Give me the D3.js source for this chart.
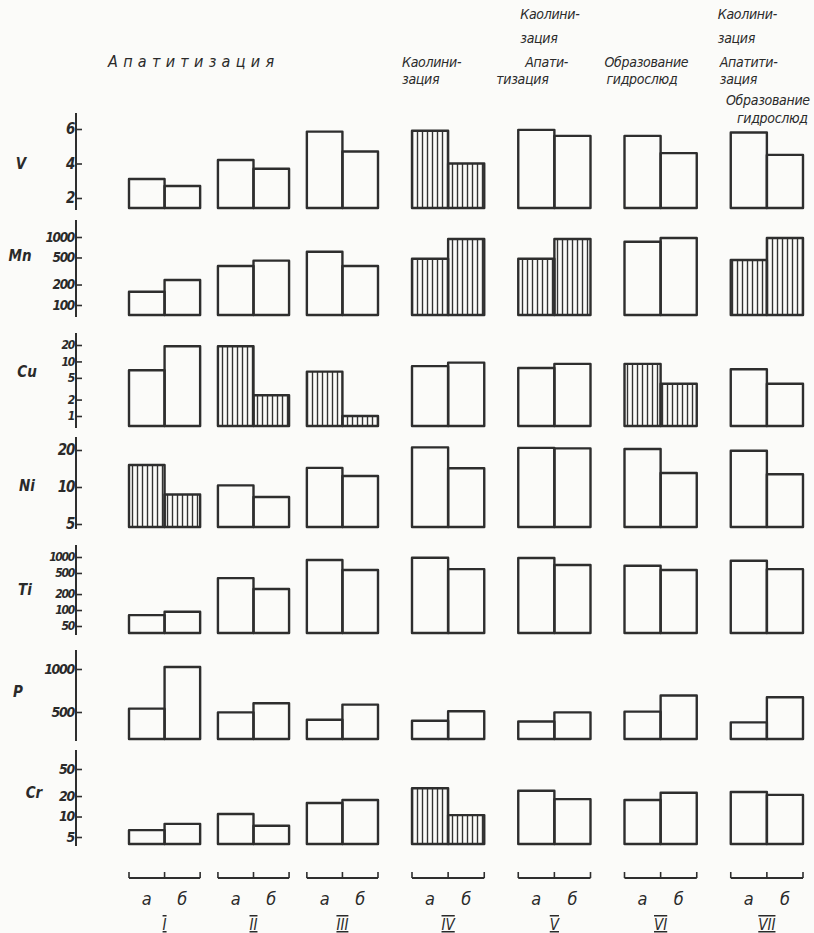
<!DOCTYPE html>
<html><head><meta charset="utf-8">
<script src="https://cdn.jsdelivr.net/npm/d3@7"></script>
<style>
body{margin:0;background:#fbfbf9;}
text{font-family:"DejaVu Sans Condensed","DejaVu Sans",sans-serif;font-style:italic;fill:#2a2a2a;}
</style></head>
<body><svg id="c" width="814" height="933"></svg>
<script>
// ---- data ----
const groups = ["I","II","III","IV","V","VI","VII"];
const subgroups = ["а","б"];
const elements = ["V","Mn","Cu","Ni","Ti","P","Cr"];
// [a, б] per group I..VII
const valuesV  = [[3.1,2.7],[4.2,3.7],[5.85,4.7],[5.9,4.0],[5.95,5.6],[5.6,4.6],[5.8,4.5]];
const valuesMn = [[157,233],[375,449],[608,375],[478,935],[478,935],[853,965],[458,965]];
const valuesCu = [[6.9,19],[19,2.4],[6.5,1.0],[8.2,9.5],[7.6,9],[9,3.9],[7.2,3.9]];
const valuesNi = [[15.1,8.7],[10.3,8.3],[14.3,12.3],[21,14.2],[20.8,20.6],[20.4,13],[19.7,12.7]];
const valuesTi = [[80,93],[400,250],[877,568],[970,590],[957,707],[686,568],[852,590]];
const valuesP  = [[539,1023],[496,601],[410,586],[398,508],[390,496],[504,692],[379,672]];
const valuesCr = [[6.3,7.8],[10.9,7.3],[15.8,17.5],[26,10.5],[24,18],[17.5,22.4],[23,20.8]];
// hatched groups per element
const hatchV  = ["IV"];
const hatchMn = ["IV","V","VII"];
const hatchCu = ["II","III","VI"];
const hatchNi = ["I"];
const hatchTi = [];
const hatchP  = [];
const hatchCr = ["IV"];
// tick labels
const ticksV  = [2,4,6];
const ticksMn = [100,200,500,1000];
const ticksCu = [1,2,5,10,20];
const ticksNi = [5,10,20];
const ticksTi = [50,100,200,500,1000];
const ticksP  = [500,1000];
const ticksCr = [5,10,20,50];
// process headers
const sectionTitle = "Апатитизация";
const headerIV  = ["Каолини-","зация"];
const headerV   = ["Каолини-","зация","Апати-","тизация"];
const headerVI  = ["Образование","гидрослюд"];
const headerVII = ["Каолини-","зация","Апатити-","зация","Образование","гидрослюд"];

// ---- layout ----
const svg = d3.select("#c");
const ink = "#2e2e2e";
const defs = svg.append("defs");
const pat = defs.append("pattern").attr("id","hatch").attr("patternUnits","userSpaceOnUse")
  .attr("width",5).attr("height",10);
pat.append("line").attr("x1",2.5).attr("x2",2.5).attr("y1",0).attr("y2",10)
  .attr("stroke","#333").attr("stroke-width",1.4);

const sec1 = d3.scaleBand().domain(groups.slice(0,3)).range([129,378]).paddingInner(0.2);
const sec2 = d3.scaleBand().domain(groups.slice(3)).range([412,803]).paddingInner(0.32);
const gScale = g => sec1.domain().includes(g) ? sec1 : sec2;
const gx = g => gScale(g)(g);
const bw = g => gScale(g).bandwidth();
const subX = g => d3.scaleBand().domain(subgroups).range([gx(g), gx(g)+bw(g)]);

const rows = [
  {key:"V",  vals:valuesV,  hatch:hatchV,  ticks:ticksV,  fs:15, s:d3.scaleLinear().domain([2,6]).range([198,129]), base:208, top:113, lx:21, ly:169},
  {key:"Mn", vals:valuesMn, hatch:hatchMn, ticks:ticksMn, fs:13.5, s:d3.scaleLog().domain([100,1000]).range([305,237]), base:315, top:220, lx:20, ly:261},
  {key:"Cu", vals:valuesCu, hatch:hatchCu, ticks:ticksCu, fs:12, s:d3.scaleLog().domain([1,20]).range([416,345]), base:426, top:333, lx:27, ly:377},
  {key:"Ni", vals:valuesNi, hatch:hatchNi, ticks:ticksNi, fs:15, s:d3.scaleLog().domain([5,20]).range([524,450]), base:527, top:437, lx:27, ly:491},
  {key:"Ti", vals:valuesTi, hatch:hatchTi, ticks:ticksTi, fs:12, s:d3.scaleLog().domain([50,1000]).range([626,557]), base:633, top:545, lx:25, ly:595},
  {key:"P",  vals:valuesP,  hatch:hatchP,  ticks:ticksP,  fs:14, s:d3.scaleLinear().domain([500,1000]).range([712,669]), base:739, top:650, lx:18, ly:697},
  {key:"Cr", vals:valuesCr, hatch:hatchCr, ticks:ticksCr, fs:14, s:d3.scaleLog().domain([5,50]).range([837,769]), base:844, top:750, lx:34, ly:798}
];
const axisX = 76;

rows.forEach(r => {
  const g = svg.append("g");
  // row label
  g.append("text").attr("x",r.lx).attr("y",r.ly).attr("text-anchor","middle")
    .attr("font-size",15).attr("font-weight","bold").text(r.key);
  // axis
  const ax = d3.axisRight(r.s).tickValues(r.ticks).tickSize(6).tickFormat("");
  const ag = g.append("g").attr("transform",`translate(${axisX},0)`).call(ax);
  ag.select(".domain").remove();
  ag.selectAll(".tick line").attr("stroke",ink).attr("stroke-width",1.6);
  g.append("line").attr("x1",axisX).attr("x2",axisX).attr("y1",r.top).attr("y2",r.base+2)
    .attr("stroke",ink).attr("stroke-width",2);
  g.selectAll(".tl").data(r.ticks).join("text").attr("class","tl")
    .attr("x",axisX-2).attr("y",d=>r.s(d)+r.fs*0.35).attr("text-anchor","end")
    .attr("font-size",r.fs).attr("font-weight","bold").attr("letter-spacing",-1.3).text(d=>d);
  // bars
  const bars = [];
  groups.forEach((grp,i) => {
    const sx = subX(grp);
    subgroups.forEach((sg,j) => bars.push({grp, sg, v:r.vals[i][j], x:sx(sg), w:sx.bandwidth()}));
  });
  g.selectAll(".bar").data(bars).join("rect").attr("class","bar")
    .attr("x",d=>d.x).attr("width",d=>d.w)
    .attr("y",d=>r.s(d.v)).attr("height",d=>r.base - r.s(d.v))
    .attr("fill",d=>r.hatch.includes(d.grp) ? "url(#hatch)" : "none")
    .attr("stroke",ink).attr("stroke-width",2.4).attr("stroke-linejoin","round");
});

// bottom brackets and labels
const by = 878;
groups.forEach(grp => {
  const sx = subX(grp);
  const x0 = gx(grp), x1 = gx(grp)+bw(grp);
  const g = svg.append("g");
  g.append("line").attr("x1",x0).attr("x2",x1).attr("y1",by).attr("y2",by).attr("stroke",ink).attr("stroke-width",1.8);
  [x0, sx("б"), x1].forEach(x => g.append("line").attr("x1",x).attr("x2",x).attr("y1",by).attr("y2",by-6)
    .attr("stroke",ink).attr("stroke-width",1.6));
  subgroups.forEach(sg => g.append("text").attr("x",sx(sg)+sx.bandwidth()/2).attr("y",905)
    .attr("text-anchor","middle").attr("font-size",18).text(sg));
  g.append("text").attr("x",(x0+x1)/2).attr("y",930).attr("text-anchor","middle")
    .attr("font-size",15).attr("text-decoration","underline overline").text(grp);
});

// headers
svg.append("text").attr("x",108).attr("y",67).attr("font-size",16).attr("letter-spacing",5.3).text(sectionTitle);
const hdrY = [19, 43, 67, 84, 105, 123];
const headers = [
  {g:"IV", lines:headerIV, rows:[2,3], dx:[-10,-10], anchor:"start"},
  {g:"V", lines:headerV, rows:[0,1,2,3], dx:[2,2,7,-22], anchor:"start"},
  {g:"VI", lines:headerVI, rows:[2,3], dx:[-20,-18], anchor:"start"},
  {g:"VII", lines:headerVII.slice(0,4), rows:[0,1,2,3], dx:[-13,-13,-11,-11], anchor:"start"},
  {g:"VII", lines:headerVII.slice(4), rows:[4,5], dx:[79,77], anchor:"end"}
];
headers.forEach(h => {
  h.lines.forEach((t,i) => svg.append("text").attr("x",gx(h.g)+h.dx[i]).attr("y",hdrY[h.rows[i]])
    .attr("text-anchor",h.anchor).attr("font-size",14).attr("letter-spacing",-0.3).text(t));
});
</script></body></html>
